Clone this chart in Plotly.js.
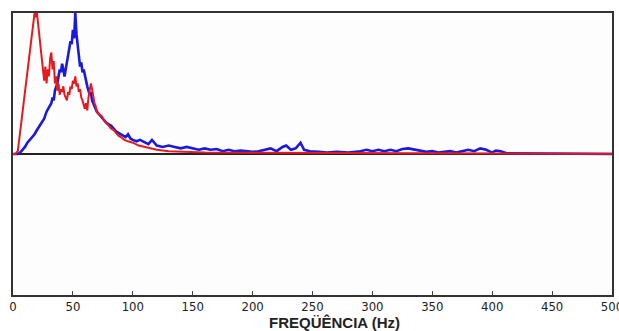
<!DOCTYPE html>
<html>
<head>
<meta charset="utf-8">
<script src="https://cdn.plot.ly/plotly-3.0.1.min.js"></script>
<style>html,body{margin:0;padding:0;background:#fff;}#chart{width:619px;height:331px;}</style>
</head>
<body>
<div id="chart"></div>
<script>
// Red spectrum (frequency Hz, relative amplitude)
const redFreq = [0,2,4,6,8,10,12,14,16,17,18,19,20,21,22,23,24,25,26,27,28,29,30,31,32,33,34,35,36,37,38,39,40,41,42,43,44,45,46,47,48,49,50,51,52,53,54,55,56,57,58,59,60,61,62,63,64,65,66,67,68,69,70,72,74,76,78,80,82,84,86,88,90,93,96,100,105,110,115,120,130,140,160,200,300,400,500];
const redAmp  = [0,0,0.02,0.15,0.3,0.45,0.58,0.72,0.85,0.95,1.0,0.97,1.0,0.92,0.85,0.78,0.7,0.6,0.52,0.62,0.5,0.6,0.55,0.68,0.72,0.6,0.66,0.5,0.55,0.45,0.5,0.42,0.46,0.44,0.48,0.42,0.4,0.38,0.44,0.42,0.48,0.46,0.52,0.5,0.55,0.48,0.5,0.44,0.46,0.4,0.38,0.34,0.32,0.36,0.31,0.4,0.45,0.5,0.46,0.4,0.36,0.34,0.3,0.28,0.27,0.24,0.22,0.2,0.18,0.17,0.15,0.13,0.12,0.1,0.09,0.08,0.06,0.05,0.04,0.03,0.02,0.015,0.01,0.008,0.005,0.003,0.002];

// Blue spectrum
const blueFreq = [0,4,6,8,10,12,14,16,18,20,22,24,26,28,30,32,33,34,35,36,37,38,39,40,41,42,43,44,45,46,47,48,49,50,51,52,53,54,55,56,57,58,59,60,61,62,63,64,65,66,67,68,69,70,72,74,76,78,80,82,84,86,88,90,92,94,96,98,100,103,106,110,113,116,120,125,130,135,140,145,150,155,160,165,170,175,180,185,190,195,200,205,210,215,220,225,228,232,236,240,243,248,255,262,270,280,290,295,300,305,310,315,320,325,330,335,340,345,350,355,360,365,370,375,380,385,390,395,400,403,407,412,420,430,440,500];
const blueAmp  = [0,0,0.01,0.03,0.05,0.08,0.1,0.12,0.14,0.17,0.2,0.23,0.25,0.3,0.33,0.36,0.4,0.38,0.45,0.48,0.5,0.55,0.6,0.58,0.64,0.6,0.55,0.6,0.65,0.7,0.75,0.8,0.78,0.88,0.82,1.0,0.85,0.78,0.7,0.62,0.65,0.58,0.6,0.55,0.5,0.48,0.45,0.42,0.44,0.38,0.36,0.34,0.32,0.3,0.28,0.26,0.24,0.22,0.21,0.2,0.18,0.16,0.15,0.14,0.13,0.12,0.14,0.11,0.1,0.09,0.1,0.08,0.07,0.1,0.06,0.05,0.06,0.05,0.04,0.05,0.04,0.03,0.04,0.03,0.035,0.02,0.03,0.02,0.025,0.02,0.015,0.02,0.03,0.04,0.02,0.05,0.06,0.03,0.04,0.08,0.03,0.02,0.015,0.01,0.015,0.01,0.02,0.03,0.02,0.03,0.02,0.03,0.02,0.035,0.04,0.03,0.02,0.015,0.02,0.01,0.015,0.02,0.01,0.02,0.03,0.02,0.04,0.03,0.01,0.025,0.02,0.005,0.005,0.003,0,0];

const xTicks = [0,50,100,150,200,250,300,350,400,450,500];
const xTitle = 'FREQÜÊNCIA (Hz)';

const traces = [
  {x: blueFreq, y: blueAmp, type: 'scatter', mode: 'lines', line: {color: '#1a1adf', width: 2.6}, hoverinfo: 'skip'},
  {x: redFreq, y: redAmp, type: 'scatter', mode: 'lines', line: {color: '#e8191c', width: 2}, hoverinfo: 'skip'}
];

const layout = {
  width: 619, height: 331,
  margin: {l: 13, r: 7, t: 13, b: 36, pad: 0},
  paper_bgcolor: '#ffffff',
  plot_bgcolor: '#fdfdfd',
  showlegend: false,
  font: {family: 'Liberation Sans, Arial, sans-serif', color: '#222'},
  xaxis: {
    range: [0, 500], tickvals: xTicks, ticktext: xTicks.map(String),
    ticks: 'inside', ticklen: 4, tickcolor: '#444', tickwidth: 1,
    ticklabeloverflow: 'allow', ticklabelstandoff: -2,
    tickfont: {size: 13, color: '#222', family: 'Liberation Sans Narrow, DejaVu Sans Condensed, Arial Narrow, sans-serif'},
    showgrid: false, zeroline: false,
    showline: true, linecolor: '#333', linewidth: 2, mirror: true
  },
  yaxis: {
    range: [-1, 1], showticklabels: false, ticks: '', showgrid: false,
    zeroline: true, zerolinecolor: '#222', zerolinewidth: 2,
    showline: true, linecolor: '#333', linewidth: 2, mirror: true
  },
  annotations: [{
    text: '<b>' + xTitle + '</b>', xref: 'paper', yref: 'paper',
    x: 0.536, y: -0.0975, xanchor: 'center', yanchor: 'middle',
    showarrow: false, font: {size: 15, color: '#222', family: 'Liberation Sans, Arial, sans-serif'}
  }]
};

Plotly.newPlot('chart', traces, layout, {staticPlot: true, displayModeBar: false});
</script>
</body>
</html>
